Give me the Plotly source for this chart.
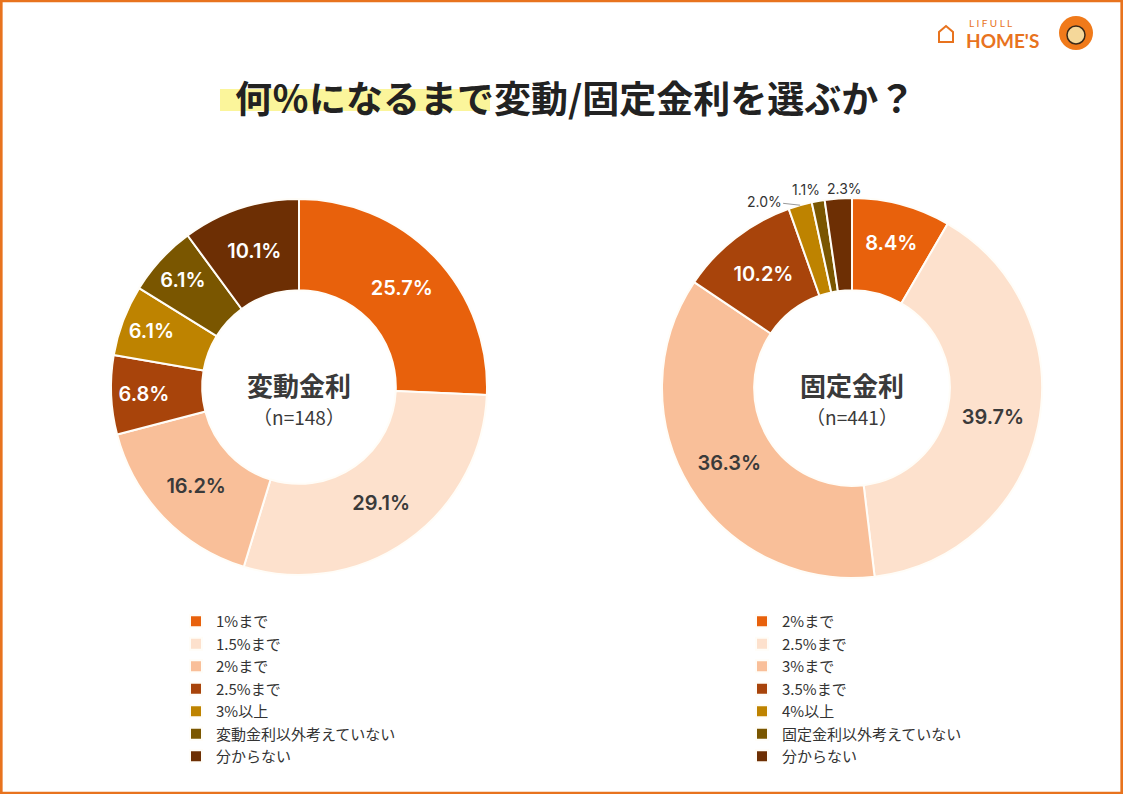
import math
import plotly.graph_objects as go

W, H = 1123, 794

# data
title_text = "何％になるまで変動/固定金利を選ぶか？"

hendo_labels = ["1%まで", "1.5%まで", "2%まで", "2.5%まで", "3%以上",
                "変動金利以外考えていない", "分からない"]
hendo_values = [25.7, 29.1, 16.2, 6.8, 6.1, 6.1, 10.1]
hendo_center = ["変動金利", "（n=148）"]

kotei_labels = ["2%まで", "2.5%まで", "3%まで", "3.5%まで", "4%以上",
                "固定金利以外考えていない", "分からない"]
kotei_values = [8.4, 39.7, 36.3, 10.2, 2.0, 1.1, 2.3]
kotei_center = ["固定金利", "（n=441）"]

# slice colours, same order for both donuts
colors = ["#E8610C", "#FDE1CD", "#F9BF99", "#A8440B", "#BE8300", "#7A5600", "#6D2F04"]
text_colors = ["white", "#3a3a3a", "#3a3a3a", "white", "white", "white", "white"]

JP = "Noto Sans CJK JP"
NUM = "Inter, Noto Sans CJK JP"
ORANGE = "#E8731E"

LEFT = (299, 387, 188)    # centre x, centre y, outer radius (px)
RIGHT = (852, 388, 190)


def px(x, y):
    """pixel position -> paper fraction"""
    return x / W, 1 - y / H


def donut_domain(cx, cy, r):
    x0, y1 = px(cx - r, cy - r)
    x1, y0 = px(cx + r, cy + r)
    return dict(x=[x0, x1], y=[y0, y1])


fig = go.Figure()

fig.add_trace(go.Pie(
    labels=hendo_labels, values=hendo_values,
    domain=donut_domain(*LEFT),
    hole=0.515, sort=False, direction="clockwise", rotation=0,
    marker=dict(colors=colors, line=dict(color="#FFFDF8", width=2)),
    texttemplate="%{value:.1f}%", textposition="inside",
    insidetextorientation="horizontal",
    textfont=dict(family=NUM, size=20, color=text_colors, weight=600),
    hoverinfo="label+value",
    legend="legend", showlegend=True,
))

# the three thin slices on the right get their labels outside, set below
n_inside = 4
fig.add_trace(go.Pie(
    labels=[f"{l} " for l in kotei_labels], values=kotei_values,
    domain=donut_domain(*RIGHT),
    hole=0.515, sort=False, direction="clockwise", rotation=0,
    marker=dict(colors=colors, line=dict(color="#FFFDF8", width=2)),
    texttemplate="%{value:.1f}%",
    textposition=["inside"] * n_inside + ["none"] * (len(kotei_values) - n_inside),
    insidetextorientation="horizontal",
    textfont=dict(family=NUM, size=20, color=text_colors, weight=600),
    hoverinfo="label+value",
    legend="legend2", showlegend=True,
))

annotations = []
# centre titles: one annotation with two lines
for (cx, cy), (big, small) in [((LEFT[0], 398), hendo_center), ((RIGHT[0], 398), kotei_center)]:
    x, y = px(cx, cy)
    annotations.append(dict(x=x, y=y, xref="paper", yref="paper",
                            text=(f"<span style='font-size:26px'><b>{big}</b></span><br>"
                                  f"<span style='font-size:19px'>{small}</span>"),
                            xanchor="center", yanchor="middle", showarrow=False,
                            font=dict(family=JP, size=22, color="#3a3a3a")))

# outside labels for the thin slices, placed at the rim point of each slice
cx, cy, r = RIGHT
total = sum(kotei_values)
label_offsets = {4: (-36, -4), 5: (-12, -12), 6: (6, -10)}
cum = 0
for i, v in enumerate(kotei_values):
    mid = (cum + v / 2) / total * 2 * math.pi
    cum += v
    if i < n_inside:
        continue
    rx, ry = px(cx + r * math.sin(mid), cy - r * math.cos(mid))
    dx, dy = label_offsets[i]
    ann = dict(x=rx, y=ry, xref="paper", yref="paper", text=f"{v:.1f}%",
               font=dict(family=NUM, size=14, color="#333333"))
    if i == 4:
        ann.update(showarrow=True, arrowhead=0, arrowwidth=1, arrowcolor="#999999",
                   ax=dx, ay=dy, standoff=0)
    else:
        ann.update(showarrow=False, xshift=dx, yshift=-dy, xanchor="center", yanchor="middle")
    annotations.append(ann)

# title
tx, ty = px(575, 97)
annotations.append(dict(x=tx, y=ty, xref="paper", yref="paper", text=f"<b>{title_text}</b>",
                        xanchor="center", yanchor="middle", showarrow=False,
                        font=dict(family=JP, size=37, color="#222222")))

# logo text
lx, ly = px(967, 23)
annotations.append(dict(x=lx, y=ly, xref="paper", yref="paper", text="L I F U L L",
                        xanchor="left", yanchor="middle", showarrow=False,
                        font=dict(family="Lato", size=10, color=ORANGE)))
lx, ly = px(964, 41)
annotations.append(dict(x=lx, y=ly, xref="paper", yref="paper", text="<b>HOME'S</b>",
                        xanchor="left", yanchor="middle", showarrow=False,
                        font=dict(family="Lato", size=19, color=ORANGE)))

shapes = [
    # frame
    dict(type="rect", xref="paper", yref="paper", x0=0.001, x1=0.999, y0=0.001, y1=0.999,
         line=dict(color=ORANGE, width=3)),
    # yellow marker behind title
    dict(type="rect", xref="paper", yref="paper", layer="below",
         x0=220 / W, x1=490 / W, y0=1 - 111 / H, y1=1 - 89 / H,
         fillcolor="#FBF59B", line=dict(width=0)),
    # logo house icon
    dict(type="path", xref="paper", yref="paper",
         path=f"M {939/W},{1-42/H} L {939/W},{1-32/H} L {946/W},{1-26/H} L {953/W},{1-32/H} L {953/W},{1-42/H} Z",
         line=dict(color=ORANGE, width=2)),
    # logo mascot circle
    dict(type="circle", xref="paper", yref="paper",
         x0=1059 / W, x1=1093 / W, y0=1 - 50 / H, y1=1 - 16 / H,
         fillcolor="#F07A1A", line=dict(width=0)),
    dict(type="circle", xref="paper", yref="paper",
         x0=1067 / W, x1=1085 / W, y0=1 - 44 / H, y1=1 - 26 / H,
         fillcolor="#F5D89A", line=dict(color="#3a2a1a", width=1.5)),
]

legend_style = dict(font=dict(family=JP, size=15, color="#333333"), bgcolor="rgba(0,0,0,0)",
                    xanchor="left", yanchor="top", itemclick=False, itemdoubleclick=False,
                    tracegroupgap=0)

fig.update_layout(
    width=W, height=H,
    margin=dict(l=0, r=0, t=0, b=0),
    paper_bgcolor="white", plot_bgcolor="white",
    annotations=annotations, shapes=shapes,
    legend=dict(x=176 / W, y=1 - 605 / H, **legend_style),
    legend2=dict(x=742 / W, y=1 - 605 / H, **legend_style),
)

fig.write_html("out.html", config={"displayModeBar": False},
               post_script="document.body.style.margin='0';")
